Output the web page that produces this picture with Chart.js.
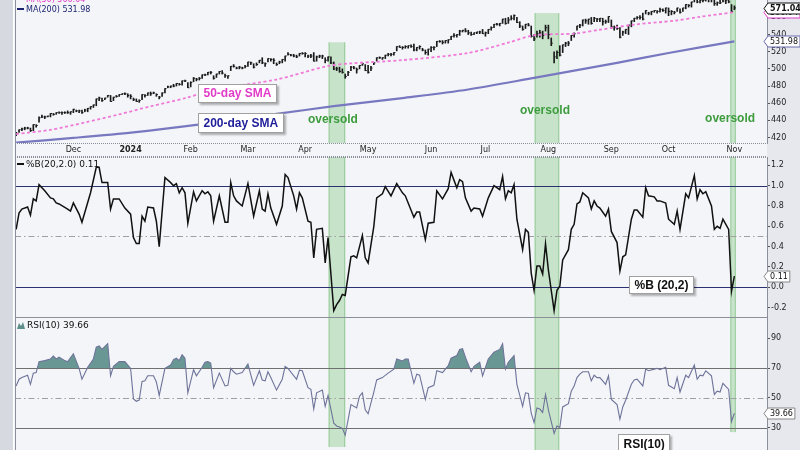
<!DOCTYPE html>
<html lang="en">
<head>
  <meta charset="UTF-8" />
  <title>SPY with %B(20,2) and RSI(10)</title>
  <script src="https://cdn.jsdelivr.net/npm/chart.js"></script>
  <style>
    html, body { margin: 0; padding: 0; }
    body {
      width: 800px; height: 450px; overflow: hidden; position: relative;
      background: #f4f5f9;
    }
    .strip-left { position: absolute; left: 0; top: 0; width: 13px; height: 450px; background: #d6d9e0; border-right: 1px solid #fff; }
    .strip-right { position: absolute; left: 767px; top: 0; width: 33px; height: 450px; background: #e6e8ee; }
    canvas { position: absolute; left: 0; }
    #priceChart { top: -16px; }
    #pctbChart { top: 157px; }
    #rsiChart { top: 318px; }
  </style>
</head>
<body>
  <div class="strip-left"></div>
  <div class="strip-right"></div>
  <canvas id="priceChart" width="800" height="173"></canvas>
  <canvas id="pctbChart" width="800" height="161"></canvas>
  <canvas id="rsiChart" width="800" height="132"></canvas>

  <script>
    // x axis is trading-day index, 0 = Dec 1 2023
    const monthDays   = [0, 20, 41, 61, 81, 103, 125, 144, 166, 188, 208, 231];
    const monthLabels = ['Dec', '2024', 'Feb', 'Mar', 'Apr', 'May', 'Jun', 'Jul', 'Aug', 'Sep', 'Oct', 'Nov'];

    // daily bars, first one is Nov 2 2023
    const firstDay = -20;
    const closes = [
      425,429,430,431,431,428,435,434,443,444,444,445,448,447,449,449,449,449,449,450,
      453,451,451,449,452,454,456,458,465,466,463,466,469,462,467,468,470,471,471,469,
      468,464,462,463,470,469,472,471,472,470,467,472,477,479,480,480,483,482,486,486,478,
      484,489,488,489,493,493,496,496,489,494,497,495,492,492,503,503,501,502,501,503,
      508,507,502,505,510,507,506,512,511,510,505,508,511,515,517,516,515,514,518,518,
      518,515,515,509,514,515,515,510,514,507,500,500,497,496,491,496,502,501,499,504,506,498,
      496,501,507,513,513,513,516,517,517,519,526,525,525,526,527,526,522,525,526,522,519,523,
      525,525,532,532,531,533,534,538,539,540,544,545,544,542,540,542,543,543,541,
      542,546,548,552,552,553,558,553,557,559,562,554,550,546,552,551,538,535,541,542,539,548,
      540,530,514,519,516,528,530,530,539,541,550,551,557,556,558,553,559,558,559,555,555,561,
      549,548,547,537,543,546,551,556,559,560,560,558,568,565,567,568,567,569,568,571,
      567,567,566,571,566,571,575,574,578,582,578,580,580,583,582,581,576,577,577,579,580,578,567,
      571.04
    ];
    const highs = [
      426,429,431,432,432,431,435,435,444,446,445,445,448,448,449,450,450,450,451,450,
      453,452,452,452,453,454,456,458,465,467,466,466,469,469,467,469,470,471,472,471,
      470,466,465,464,470,470,472,473,473,471,468,472,477,480,480,482,483,483,486,487,484,
      485,490,489,490,493,494,496,497,492,494,497,498,494,492,503,505,502,503,502,504,
      508,508,506,507,510,513,507,512,512,512,507,509,511,515,519,517,517,516,518,519,
      519,516,517,519,515,516,516,513,514,514,508,502,502,500,494,497,503,503,501,504,506,505,
      504,503,507,513,514,513,516,518,518,519,526,527,526,527,527,528,529,525,527,524,522,523,
      526,526,532,533,533,533,534,538,541,540,545,545,547,545,543,542,543,544,546,
      543,546,549,552,553,553,558,559,560,562,563,560,555,550,552,553,550,540,544,545,544,551,
      551,536,520,521,527,528,531,532,539,542,550,552,557,558,558,560,560,559,559,559,557,561,
      557,550,551,548,544,546,551,556,559,561,562,565,568,566,567,568,568,571,570,571,
      571,568,567,571,570,571,575,575,578,583,584,581,581,583,583,582,580,578,582,580,581,580,575,
      573.5
    ];
    const lows = [
      422,426,428,429,430,427,428,432,438,443,442,444,444,446,447,448,447,448,448,447,
      449,450,449,448,450,450,453,455,457,463,462,464,467,462,463,467,468,470,470,467,
      465,463,462,461,464,467,469,469,471,468,465,468,472,478,478,479,480,481,481,485,478,
      479,485,486,487,489,492,493,494,488,490,494,494,490,489,498,502,500,500,500,501,
      503,505,501,504,507,506,503,508,509,506,504,506,507,509,516,515,514,513,515,517,
      514,513,513,509,509,513,512,507,509,506,499,498,496,495,489,492,498,500,495,500,504,498,
      495,498,505,509,512,511,512,515,515,516,521,525,523,524,524,525,521,521,523,521,517,516,
      520,522,526,531,529,530,530,534,537,537,539,543,543,540,539,540,541,541,541,
      538,541,545,548,551,550,553,552,553,557,557,554,548,545,547,550,537,533,537,537,535,544,
      535,527,507,512,515,519,526,527,533,537,545,548,550,553,552,552,555,555,555,551,553,554,
      547,545,546,536,539,541,540,549,555,558,558,557,564,563,563,566,565,566,567,565,
      562,563,564,567,565,567,570,572,572,578,577,577,578,579,578,578,574,574,576,578,576,577,567,
      569
    ];

    // moving averages read at a few points
    const sma50Days  = [-20, -8, 4, 16, 27, 39, 50, 71, 89, 97, 115, 138, 152, 161, 175, 184, 196, 210, 219, 231];
    const sma50Vals  = [424, 429, 437.5, 447, 456.4, 465.8, 476.3, 487.6, 503.4, 506.4, 510.2, 518.5, 530.6, 539.2, 541.1, 545.6, 551.6, 556.1, 560.7, 566.04];
    const sma200Days = [-20, 0, 21, 45, 71, 91, 115, 138, 161, 190, 208, 231];
    const sma200Vals = [414, 419.5, 426, 435.5, 447.5, 456.5, 466, 476, 489.5, 507, 518.5, 531.98];

    // %B(20,2)
    const pctBDays = [
      -20,-19,-18,-16,-15,-14,-13,-12,-10,-8,
      -7,-6,-5,-2,-1,0,2,3,6,8,
      9,10,12,13,14,16,18,20,21,22,
      23,24,25,26,28,29,30,32,34,35,
      36,37,38,39,40,42,43,45,46,47,
      48,49,51,53,54,55,56,57,59,61,
      63,65,66,67,68,69,71,73,74,75,
      77,78,79,80,82,83,84,85,87,88,
      89,91,92,93,94,95,97,98,99,101,
      102,103,105,106,108,109,111,113,115,116,
      117,119,120,121,123,124,126,127,129,131,
      132,134,135,136,137,139,140,142,143,145,
      147,149,150,151,152,153,154,155,157,158,
      159,160,161,162,163,164,165,166,168,169,
      170,171,173,174,175,176,177,178,180,181,
      182,183,184,186,187,188,190,191,192,193,
      195,196,197,199,200,201,203,204,205,207,
      208,210,211,212,214,215,217,218,219,220,
      221,223,224,225,226,227,229,230,231
    ];
    const pctBVals = [
      0.57,0.73,0.77,0.79,0.71,0.87,0.85,1.01,0.95,0.88,
      0.87,0.83,0.82,0.77,0.75,0.83,0.72,0.64,0.93,1.18,
      1.18,1.03,1.03,0.77,0.87,0.87,0.78,0.72,0.49,0.43,
      0.43,0.70,0.65,0.79,0.78,0.65,0.40,1.08,1.03,1.00,
      1.02,0.93,0.98,0.93,0.63,0.94,0.85,0.95,0.92,0.94,
      0.90,0.65,0.90,0.64,0.64,1.03,0.90,0.85,0.80,1.02,
      0.70,0.95,0.77,0.75,0.92,0.78,0.62,0.80,1.11,1.08,
      0.90,0.77,0.93,0.88,0.65,0.64,0.29,0.57,0.58,0.24,
      0.49,-0.23,-0.17,-0.13,-0.07,-0.08,0.30,0.31,0.29,0.51,
      0.29,0.24,0.60,0.88,0.92,0.99,0.90,1.02,0.93,0.90,
      0.83,0.69,0.74,0.74,0.47,0.63,0.64,0.95,0.87,0.97,
      1.13,0.98,1.06,1.04,0.88,0.75,0.78,0.77,0.70,0.88,
      1.00,0.96,1.09,0.87,0.95,0.93,1.01,0.67,0.37,0.57,
      0.54,0.14,-0.03,0.21,0.21,0.13,0.43,0.17,-0.23,-0.03,
      0.01,0.27,0.37,0.57,0.62,0.82,0.84,0.93,0.88,0.77,
      0.85,0.80,0.78,0.70,0.77,0.55,0.44,0.16,0.30,0.32,
      0.67,0.76,0.76,0.69,0.98,0.90,0.89,0.85,0.85,0.83,
      0.67,0.62,0.75,0.57,0.92,0.88,1.10,0.87,0.96,0.92,
      0.94,0.80,0.57,0.60,0.58,0.67,0.57,-0.04,0.11
    ];

    // RSI(10)
    const rsiDays = [
      -20,-19,-18,-16,-15,-14,-13,-12,-10,-8,
      -7,-6,-5,-3,-2,0,2,3,5,7,
      8,9,10,12,13,14,16,18,20,21,
      22,23,24,25,26,28,29,30,32,34,
      35,36,37,38,39,40,42,43,45,46,
      47,48,49,51,53,54,55,56,57,59,
      61,63,65,66,67,68,69,71,73,74,
      75,78,79,80,82,83,84,85,87,88,
      89,91,92,93,94,95,97,99,100,101,
      102,103,105,106,108,110,112,113,115,116,
      117,119,120,121,123,124,126,127,129,131,
      132,134,135,136,137,139,140,142,143,145,
      147,149,150,151,152,154,155,157,158,159,
      160,161,162,163,164,165,166,168,169,170,
      171,173,174,175,176,177,178,180,181,182,
      183,184,186,187,188,190,191,192,193,195,
      196,197,199,200,201,203,204,205,207,208,
      210,211,212,214,215,217,218,219,220,221,
      223,224,225,226,227,229,230,231
    ];
    const rsiVals = [
      58.0,62.5,63.6,65.2,59.1,66.6,67.0,74.3,75.0,76.1,
      78.0,76.1,77.3,75.0,74.3,79.5,69.8,62.5,70.5,76.1,
      84.1,84.8,82.5,86.4,64.8,71.1,74.3,74.3,69.8,49.3,
      47.7,48.5,61.0,61.4,64.8,64.8,60.7,51.6,69.8,72.0,
      75.7,76.6,75.0,78.9,76.6,53.4,68.9,64.8,70.5,73.9,
      74.3,73.4,56.8,66.6,58.0,58.4,69.8,67.5,65.9,67.0,
      72.7,58.4,68.2,62.0,61.4,67.5,63.6,55.2,62.5,71.1,
      69.8,62.5,68.6,68.2,56.8,55.7,42.5,53.4,55.2,44.3,
      51.6,33.0,31.1,30.5,29.5,25.0,45.5,43.2,51.1,53.4,
      42.0,39.3,53.9,62.0,63.6,66.6,69.3,76.1,74.8,76.1,
      76.1,59.8,65.9,65.2,48.9,56.8,58.4,68.2,67.0,71.6,
      76.6,78.4,82.5,83.0,77.3,67.5,71.1,73.9,64.8,76.1,
      80.7,82.5,86.4,69.3,73.9,78.4,59.1,44.3,53.4,53.0,
      39.8,33.4,43.2,42.5,40.2,52.3,42.0,26.1,31.1,30.2,
      43.9,46.1,54.5,58.0,63.6,65.9,67.5,67.5,61.4,65.2,
      63.6,63.6,59.1,64.8,48.9,45.5,35.7,43.9,48.4,59.1,
      62.0,62.5,58.0,69.3,68.2,69.3,69.8,68.9,70.5,58.4,
      56.1,63.6,53.9,65.2,63.6,72.0,62.5,65.2,64.8,68.2,
      64.8,52.3,54.5,53.9,59.8,55.7,34.1,39.66
    ];

    // oversold zones (day ranges) and where they stop in the price / RSI panels
    const bandFrom      = [89.2, 161.2, 229.6];
    const bandTo        = [95.0, 169.8, 231.5];
    const bandPriceTop  = [531, 565, null];
    const bandRsiBottom = [17, null, 27];

    const priceTicks = [420, 440, 460, 480, 500, 520, 540, 560];
    const pctBTicks  = [-0.2, 0, 0.2, 0.4, 0.6, 0.8, 1.0, 1.2];
    const rsiTicks   = [30, 50, 70, 90];

    const FONT = "'DejaVu Sans', Verdana, sans-serif";
    Chart.defaults.font.family = FONT;
    Chart.defaults.font.size = 8;

    const pts = (days, vals) => days.map((d, i) => ({ x: d, y: vals[i] }));
    const last = arr => arr[arr.length - 1];

    function xAxis(show) {
      return {
        type: 'linear', min: -20.4, max: 242.4, offset: false, display: show,
        grid: { display: false, drawTicks: false }, border: { display: false },
        afterBuildTicks: s => { s.ticks = monthDays.map(v => ({ value: v })); },
        afterFit: s => {
          s.height = show ? 14 : 0;
          s.paddingLeft = 0; s.paddingRight = 0;
        },
        ticks: {
          padding: 2, color: '#222', autoSkip: false, maxRotation: 0,
          font: ctx => ({ family: FONT, size: 8, weight: ctx.tick && ctx.tick.value === 20 ? 'bold' : 'normal' }),
          callback: (v, i) => monthLabels[i]
        }
      };
    }

    function yAxis(min, max, tickVals, fmt) {
      return {
        position: 'right', min, max, bounds: 'data',
        afterBuildTicks: s => { s.ticks = tickVals.map(v => ({ value: v })); },
        afterFit: s => { s.width = 33; s.paddingTop = 0; s.paddingBottom = 0; },
        grid: { drawOnChartArea: false, drawTicks: true, tickLength: 3, tickColor: '#555' },
        border: { display: true, color: '#8a8f99' },
        ticks: { padding: 1, color: '#222', autoSkip: false, font: { size: 8 }, callback: fmt }
      };
    }

    function baseOptions(showDates, yCfg) {
      return {
        responsive: false, animation: false, devicePixelRatio: 1,
        layout: { padding: { left: 15, right: 0, top: 0, bottom: 0 } },
        plugins: { legend: { display: false }, tooltip: { enabled: false } },
        scales: { x: xAxis(showDates), y: yCfg }
      };
    }

    // ---- drawing helpers for the plugins ----
    function drawBands(chart, tops, bottoms) {
      const { ctx, chartArea: a, scales: { x, y } } = chart;
      ctx.save();
      bandFrom.forEach((from, i) => {
        const x0 = x.getPixelForValue(from), x1 = x.getPixelForValue(bandTo[i]);
        const y0 = tops && tops[i] != null ? y.getPixelForValue(tops[i]) : a.top;
        const y1 = bottoms && bottoms[i] != null ? y.getPixelForValue(bottoms[i]) : a.bottom;
        ctx.fillStyle = 'rgba(125,200,125,0.38)';
        ctx.fillRect(x0, y0, x1 - x0, y1 - y0);
        ctx.strokeStyle = 'rgba(95,175,95,0.5)';
        ctx.lineWidth = 1;
        ctx.beginPath();
        ctx.moveTo(x0 + 0.5, y0); ctx.lineTo(x0 + 0.5, y1);
        ctx.moveTo(x1 - 0.5, y0); ctx.lineTo(x1 - 0.5, y1);
        ctx.stroke();
      });
      ctx.restore();
    }

    function hLine(chart, v, color, dash) {
      const { ctx, chartArea: a, scales: { y } } = chart;
      const py = Math.round(y.getPixelForValue(v)) + 0.5;
      ctx.save();
      ctx.strokeStyle = color; ctx.lineWidth = 1; ctx.setLineDash(dash || []);
      ctx.beginPath(); ctx.moveTo(a.left, py); ctx.lineTo(a.right, py); ctx.stroke();
      ctx.restore();
    }

    function noteBox(chart, xv, yv, text, color, h) {
      const { ctx, scales: { x, y } } = chart;
      const bx = Math.round(x.getPixelForValue(xv)), by = Math.round(y.getPixelForValue(yv));
      ctx.save();
      ctx.font = "bold 12px 'Liberation Sans', Arial, sans-serif";
      const w = Math.round(ctx.measureText(text).width + 11);
      ctx.shadowColor = 'rgba(0,0,0,0.3)'; ctx.shadowOffsetX = 2; ctx.shadowOffsetY = 2; ctx.shadowBlur = 2;
      ctx.fillStyle = '#fff'; ctx.fillRect(bx, by, w, h);
      ctx.shadowColor = 'transparent';
      ctx.strokeStyle = '#a0a0a0'; ctx.lineWidth = 1; ctx.strokeRect(bx + 0.5, by + 0.5, w - 1, h - 1);
      ctx.fillStyle = color; ctx.textBaseline = 'middle';
      ctx.fillText(text, bx + 5.5, by + h / 2 + 0.5);
      ctx.restore();
    }

    function valueTag(chart, v, text, border, bold) {
      const { ctx, chartArea: a, scales: { y } } = chart;
      const py = Math.round(y.getPixelForValue(v)) + 0.5;
      ctx.save();
      ctx.font = (bold ? 'bold ' : '') + '8px ' + FONT;
      const w = ctx.measureText(text).width + 4, h = 11, x0 = a.right + 1;
      ctx.beginPath();
      ctx.moveTo(a.right - 3, py); ctx.lineTo(x0, py - h / 2); ctx.lineTo(x0 + w, py - h / 2);
      ctx.lineTo(x0 + w, py + h / 2); ctx.lineTo(x0, py + h / 2); ctx.closePath();
      ctx.fillStyle = '#fff'; ctx.fill();
      ctx.strokeStyle = border; ctx.lineWidth = 1; ctx.stroke();
      ctx.fillStyle = '#111'; ctx.textBaseline = 'middle';
      ctx.fillText(text, x0 + 2, py + 0.5);
      ctx.restore();
    }

    function legendLine(ctx, yPix, text, color, size) {
      ctx.save();
      ctx.strokeStyle = color; ctx.lineWidth = 2;
      ctx.beginPath(); ctx.moveTo(17, yPix); ctx.lineTo(24, yPix); ctx.stroke();
      ctx.font = size + 'px ' + FONT; ctx.fillStyle = color; ctx.textBaseline = 'middle';
      ctx.fillText(text, 26, yPix + 0.5);
      ctx.restore();
    }

    function leftBorder(chart, bottom) {
      const { ctx, chartArea: a } = chart;
      ctx.save(); ctx.strokeStyle = '#8a8f99'; ctx.lineWidth = 1;
      ctx.beginPath(); ctx.moveTo(a.left + 0.5, 0); ctx.lineTo(a.left + 0.5, bottom); ctx.stroke();
      ctx.restore();
    }

    // ---- price panel ----
    const pricePlugin = {
      id: 'priceDecor',
      beforeDatasetsDraw(chart) { drawBands(chart, bandPriceTop, null); },
      afterDraw(chart) {
        const { ctx, chartArea: a, scales: { x, y } } = chart;
        ctx.save();
        ctx.strokeStyle = '#8a8f99'; ctx.lineWidth = 1; ctx.setLineDash([1, 1]);
        ctx.beginPath();
        ctx.moveTo(a.left, a.bottom + 0.5); ctx.lineTo(a.right, a.bottom + 0.5);
        ctx.moveTo(a.left, chart.height - 0.5); ctx.lineTo(a.right, chart.height - 0.5);
        ctx.stroke();
        ctx.restore();
        leftBorder(chart, chart.height);

        ctx.save();
        ctx.font = "bold 12px 'Liberation Sans', Arial, sans-serif";
        ctx.fillStyle = '#3d9c3d'; ctx.textAlign = 'center'; ctx.textBaseline = 'middle';
        [[90.7, 440.5], [164.8, 450.7], [229.5, 442.2]].forEach(([d, v]) => {
          ctx.fillText('oversold', x.getPixelForValue(d), y.getPixelForValue(v));
        });
        ctx.restore();

        noteBox(chart, 43.5, 482.3, '50-day SMA', '#e03cc8', 19);
        noteBox(chart, 43.5, 448.4, '200-day SMA', '#1e1e9a', 20);

        legendLine(ctx, 15, 'MA(50) ' + last(sma50Vals).toFixed(2), '#e03cc8', 8);
        legendLine(ctx, 25, 'MA(200) ' + last(sma200Vals).toFixed(2), '#1c2470', 8);

        valueTag(chart, last(sma50Vals), last(sma50Vals).toFixed(2), '#e03cc8', false);
        valueTag(chart, last(sma200Vals), last(sma200Vals).toFixed(2), '#6a6ab0', false);
        valueTag(chart, last(closes), last(closes).toFixed(2), '#111', true);
      }
    };

    new Chart(document.getElementById('priceChart'), {
      type: 'line',
      data: {
        datasets: [
          {
            label: 'MA(200)', data: pts(sma200Days, sma200Vals),
            borderColor: '#7878c0', borderWidth: 2.2, pointRadius: 0, tension: 0.3, fill: false
          },
          {
            label: 'MA(50)', data: pts(sma50Days, sma50Vals),
            borderColor: '#f07ad8', borderWidth: 1.8, borderDash: [3, 2.5], pointRadius: 0, tension: 0.3, fill: false
          },
          {
            type: 'bar', label: 'range',
            data: lows.map((l, i) => ({ x: firstDay + i, y: [l, highs[i]] })),
            backgroundColor: '#1a1a1a', barThickness: 1, borderWidth: 0
          },
          {
            label: 'close', data: closes.map((c, i) => ({ x: firstDay + i, y: c })),
            showLine: false, pointStyle: 'dash', pointRadius: 1.6, borderColor: '#1a1a1a', borderWidth: 1
          }
        ]
      },
      options: baseOptions(true, yAxis(413.6, 593.1, priceTicks, v => String(v))),
      plugins: [pricePlugin]
    });

    // ---- %B panel ----
    const pctbPlugin = {
      id: 'pctbDecor',
      beforeDatasetsDraw(chart) {
        drawBands(chart, null, null);
        hLine(chart, 0.5, '#a0a0a0', [6, 3, 1.5, 3]);
        hLine(chart, 1.0, '#2a3070');
        hLine(chart, 0.0, '#2a3070');
      },
      afterDraw(chart) {
        const { ctx, chartArea: a } = chart;
        ctx.save(); ctx.strokeStyle = '#8a8f99'; ctx.lineWidth = 1;
        ctx.beginPath(); ctx.moveTo(a.left, a.bottom - 0.5); ctx.lineTo(a.right, a.bottom - 0.5); ctx.stroke();
        ctx.setLineDash([1, 1]);
        ctx.beginPath(); ctx.moveTo(a.left, 0.5); ctx.lineTo(a.right, 0.5); ctx.stroke();
        ctx.restore();
        leftBorder(chart, chart.height);
        noteBox(chart, 194.2, 0.111, '%B (20,2)', '#111', 18);
        legendLine(ctx, 7, '%B(20,2.0) ' + last(pctBVals).toFixed(2), '#111', 9);
        valueTag(chart, last(pctBVals), last(pctBVals).toFixed(2), '#888', false);
      }
    };

    new Chart(document.getElementById('pctbChart'), {
      type: 'line',
      data: {
        datasets: [{
          label: '%B', data: pts(pctBDays, pctBVals),
          borderColor: '#111', borderWidth: 1.5, pointRadius: 0, tension: 0, fill: false
        }]
      },
      options: baseOptions(false, yAxis(-0.302, 1.282, pctBTicks, v => v.toFixed(1))),
      plugins: [pctbPlugin]
    });

    // ---- RSI panel ----
    const rsiPlugin = {
      id: 'rsiDecor',
      beforeDatasetsDraw(chart) {
        drawBands(chart, null, bandRsiBottom);
        hLine(chart, 50, '#a0a0a0', [6, 3, 1.5, 3]);
        hLine(chart, 70, '#707070');
        hLine(chart, 30, '#707070');
      },
      afterDraw(chart) {
        const { ctx } = chart;
        leftBorder(chart, chart.height);
        noteBox(chart, 190.3, 25.8, 'RSI(10)', '#111', 20);
        ctx.save();
        ctx.fillStyle = '#5e8e8a';
        ctx.beginPath();
        ctx.moveTo(17, 11); ctx.lineTo(19, 5); ctx.lineTo(21, 8); ctx.lineTo(23, 4); ctx.lineTo(25, 11);
        ctx.closePath(); ctx.fill();
        ctx.font = '9px ' + FONT; ctx.fillStyle = '#111'; ctx.textBaseline = 'middle';
        ctx.fillText('RSI(10) ' + last(rsiVals).toFixed(2), 27, 7.5);
        ctx.restore();
        valueTag(chart, last(rsiVals), last(rsiVals).toFixed(2), '#888', false);
      }
    };

    new Chart(document.getElementById('rsiChart'), {
      type: 'line',
      data: {
        datasets: [{
          label: 'RSI(10)', data: pts(rsiDays, rsiVals),
          borderColor: '#6e7399', borderWidth: 1.1, pointRadius: 0, tension: 0,
          fill: { target: { value: 70 }, above: 'rgba(80,135,130,0.85)', below: 'rgba(0,0,0,0)' }
        }]
      },
      options: baseOptions(false, yAxis(15, 103.6, rsiTicks, v => String(v))),
      plugins: [rsiPlugin]
    });
  </script>
</body>
</html>
